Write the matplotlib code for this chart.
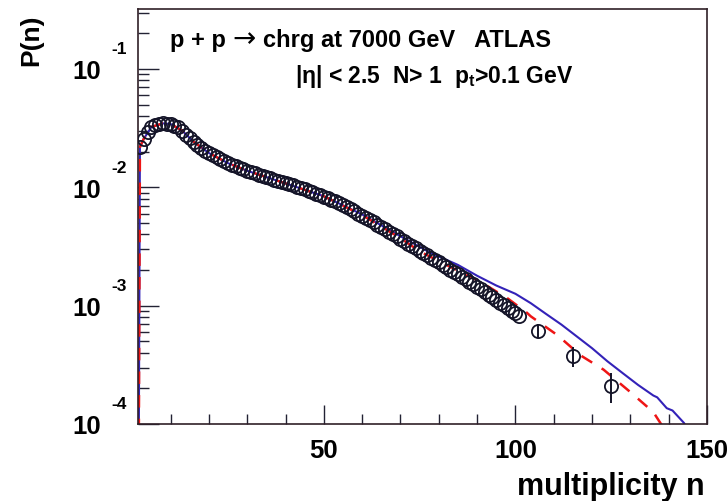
import matplotlib
matplotlib.use('Agg')
import matplotlib.pyplot as plt
from matplotlib.ticker import MultipleLocator, LogLocator, FixedLocator, FixedFormatter, NullFormatter

plt.rcParams['font.family'] = ['Liberation Sans', 'DejaVu Sans']
plt.rcParams['font.weight'] = 'bold'
plt.rcParams['mathtext.default'] = 'regular'
plt.rcParams['lines.scale_dashes'] = False

# ---------------- data (P(n) in units of 1e-3) ----------------
# ATLAS points, every n from 2 to 101
n_data = list(range(2, 102))
p_data = [21.9, 25.7, 29.5, 32.2, 33.7, 34.4, 34.7, 34.6, 34.1, 33.3,
          32.1, 30.1, 27.9, 25.9, 24.2, 22.8, 21.5, 20.4, 19.5, 18.7,
          17.9, 17.2, 16.6, 16.0, 15.5, 15.1, 14.6, 14.2, 13.8, 13.4,
          13.1, 12.8, 12.4, 12.2, 11.9, 11.6, 11.3, 11.1, 10.8, 10.6,
          10.4, 10.1, 9.84, 9.59, 9.35, 9.10, 8.85, 8.61, 8.36, 8.11,
          7.87, 7.62, 7.38, 7.08, 6.79, 6.52, 6.25, 6.00, 5.75, 5.51,
          5.27, 5.05, 4.83, 4.62, 4.42, 4.22, 4.03, 3.85, 3.67, 3.51,
          3.35, 3.20, 3.05, 2.92, 2.79, 2.66, 2.54, 2.43, 2.32, 2.21,
          2.11, 2.02, 1.93, 1.84, 1.75, 1.67, 1.59, 1.51, 1.44, 1.37,
          1.31, 1.24, 1.18, 1.12, 1.06, 1.01, 0.957, 0.908, 0.859, 0.813]

# wide bins in the tail, with errors
n_tail = [106, 115, 125]
p_tail = [0.615, 0.374, 0.211]
err_tail = [0.08, 0.07, 0.06]

# model curves
n_red = [1.5, 2, 3, 5, 8, 10, 13, 16, 20, 25, 30, 40, 50, 60, 70, 75, 82,
         91, 98, 103, 104, 111, 117, 123, 130, 136, 138, 140]
p_red = [0.001, 21.9, 25.7, 32.4, 34.7, 34.3, 30.2, 24.3, 19.5, 16.0, 13.8,
         10.8, 8.41, 5.82, 3.72, 2.88, 2.21, 1.58, 1.15, 0.871, 0.813, 0.562,
         0.380, 0.288, 0.186, 0.126, 0.100, 0.079]

n_blue = [1.5, 2, 3, 5, 8, 10, 13, 16, 20, 25, 30, 40, 50, 60, 70, 78, 85,
          90, 95, 100, 104, 108, 112, 116, 120, 124, 128, 132, 136, 137,
          139.5, 141, 144, 146]
p_blue = [0.001, 21.9, 25.7, 32.4, 34.7, 34.3, 30.2, 24.3, 19.5, 16.0, 13.8,
          10.8, 8.41, 5.90, 3.86, 2.78, 2.21, 1.79, 1.48, 1.26, 1.05, 0.851,
          0.692, 0.550, 0.437, 0.339, 0.269, 0.214, 0.174, 0.168, 0.136,
          0.130, 0.102, 0.079]

y_decades = [1e-4, 1e-3, 1e-2, 1e-1]
y_exps = ['-4', '-3', '-2', '-1']

# ---------------- plot ----------------
fig = plt.figure(figsize=(7.27, 5.02), dpi=100)
ax = fig.add_axes([138 / 727, 1 - 425 / 502, 569 / 727, 415 / 502])

sc = 1e-3
ax.plot(n_blue, [v * sc for v in p_blue], color='#3322b8', lw=1.5, zorder=2)
ax.plot(n_red, [v * sc for v in p_red], color='#ee1515', lw=1.8,
        dashes=(9, 8), zorder=2)
ax.plot(n_data, [v * sc for v in p_data], 'o', mfc='none', mec='#141428',
        ms=9.5, mew=1.3, zorder=3)
ax.errorbar(n_tail, [v * sc for v in p_tail], yerr=[v * sc for v in err_tail],
            fmt='o', mfc='none', mec='#141428', ecolor='#141428', ms=9.5,
            mew=1.3, elinewidth=1.4, capsize=0, zorder=3)

ax.set_yscale('log')
ax.set_xlim(1.5, 150)
ax.set_ylim(1e-4, 10 ** -0.493)

# ROOT-like axes: ticks inside, no ticks on top/right
ax.xaxis.set_major_locator(MultipleLocator(50))
ax.xaxis.set_minor_locator(MultipleLocator(10))
ax.yaxis.set_major_locator(FixedLocator(y_decades))
ax.yaxis.set_major_formatter(FixedFormatter(['10'] * 4))
ax.yaxis.set_minor_locator(LogLocator(base=10, subs=range(2, 10)))
ax.yaxis.set_minor_formatter(NullFormatter())
ax.tick_params(axis='x', which='major', direction='in', length=14, width=1,
               labelsize=18.5, pad=10, color='#222233')
ax.tick_params(axis='x', which='minor', direction='in', length=7, width=1,
               color='#222233')
ax.tick_params(axis='y', which='major', direction='in', length=15, width=1,
               labelsize=18.5, pad=27, color='#222233')
ax.tick_params(axis='y', which='minor', direction='in', length=8, width=1,
               color='#222233')
for s in ax.spines.values():
    s.set_linewidth(1.2)
    s.set_color('#302028')

# exponents of the decade labels
for v, e in zip(y_decades, y_exps):
    ax.annotate(e, xy=(0, v), xycoords=('axes fraction', 'data'),
                xytext=(-19, 14.5), textcoords='offset points',
                fontsize=12.5, fontweight='bold', va='center', ha='left')

fig.text(31 / 727, 1 - 40 / 502, 'P(n)', rotation=90, fontsize=19,
         fontweight='bold', ha='center', va='center')
fig.text(705 / 727, 1 - 487 / 502, 'multiplicity n', fontsize=22,
         fontweight='bold', ha='right', va='center')

# header, first line in three pieces so the arrow can be a long thin glyph
y1 = 1 - 47 / 502
fig.text(170 / 727, y1, 'p + p', fontsize=17, fontweight='bold',
         ha='left', va='baseline')
fig.text(232 / 727, y1, '\u2192', fontsize=20, fontweight='normal',
         family='DejaVu Sans', ha='left', va='baseline')
fig.text(263 / 727, y1, 'chrg at 7000 GeV   ATLAS', fontsize=17,
         fontweight='bold', ha='left', va='baseline')
fig.text(295 / 727, 1 - 83 / 502,
         '|\u03b7| < 2.5  N> 1  p$_{t}$>0.1 GeV',
         fontsize=16.5, fontweight='bold', ha='left', va='baseline')

fig.savefig('out.png', dpi=100)
